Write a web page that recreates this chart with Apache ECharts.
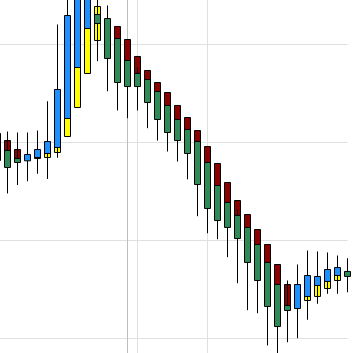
<!DOCTYPE html>
<html>
<head>
<meta charset="utf-8">
<script src="https://cdn.jsdelivr.net/npm/echarts@6/dist/echarts.min.js"></script>
<style>
html,body{margin:0;padding:0;background:#ffffff;}
#chart{width:352px;height:353px;}
</style>
</head>
<body>
<div id="chart"></div>
<script>
// Category labels (one per candle position)
const categories = ['1','2','3','4','5','6','7','8','9','10','11','12','13','14','15','16','17','18',
  '19','20','21','22','23','24','25','26','27','28','29','30','31','32','33','34','35','36'];

// Underlying candles [open, close, low, high] (up = yellow, down = dark red)
const baseCandles = [
  [29.90, 29.20, 29.20, 29.90],
  [30.20, 28.15, 28.15, 30.20],
  [29.29, 28.15, 28.15, 29.29],
  [28.30, 28.60, 28.30, 28.60],
  [28.37, 28.90, 28.37, 28.90],
  [28.47, 29.50, 28.47, 29.50],
  [28.98, 32.00, 28.98, 32.00],
  [30.61, 36.00, 30.61, 36.00],
  [33.57, 40.00, 33.57, 40.00],
  [37.04, 44.00, 37.04, 44.00],
  [40.41, 43.88, 40.41, 43.88],
  [41.00, 40.00, 40.00, 41.00],
  [41.84, 38.00, 38.00, 41.84],
  [40.51, 37.00, 37.00, 40.51],
  [38.78, 36.50, 36.50, 38.78],
  [37.35, 35.00, 35.00, 37.35],
  [36.12, 34.00, 34.00, 36.12],
  [35.10, 32.50, 32.50, 35.10],
  [33.78, 31.00, 31.00, 33.78],
  [32.55, 30.00, 30.00, 32.55],
  [31.22, 28.00, 28.00, 31.22],
  [29.59, 25.00, 25.00, 29.59],
  [27.86, 24.00, 24.00, 27.86],
  [25.92, 22.50, 22.50, 25.92],
  [24.08, 21.50, 21.50, 24.08],
  [22.65, 19.50, 19.50, 22.65],
  [21.12, 18.00, 18.00, 21.12],
  [19.59, 16.00, 16.00, 19.59],
  [17.55, 14.00, 14.00, 17.55],
  [15.51, 13.10, 13.10, 15.51],
  [14.00, 14.50, 14.00, 14.50],
  [13.88, 15.00, 13.88, 15.00],
  [14.29, 15.90, 14.29, 15.90],
  [15.10, 16.50, 15.10, 16.50],
  [15.92, 16.90, 15.92, 16.90],
  [16.70, 16.50, 16.50, 16.70]
];

// Overlaid candles [open, close, low, high] (up = blue, down = green)
const topCandles = [
  [30.92, 28.16, 27.00, 32.00],
  [29.18, 27.45, 24.80, 31.12],
  [28.37, 27.96, 25.66, 31.02],
  [28.13, 28.78, 26.05, 31.02],
  [28.47, 29.29, 26.81, 31.22],
  [28.88, 30.10, 26.28, 34.21],
  [29.49, 35.41, 28.44, 42.04],
  [32.45, 42.96, 32.45, 45.50],
  [37.65, 47.00, 37.65, 48.50],
  [41.63, 47.80, 41.63, 49.00],
  [43.06, 42.14, 38.30, 45.00],
  [42.65, 38.57, 35.23, 43.98],
  [40.61, 36.12, 33.27, 40.61],
  [38.37, 35.71, 32.48, 38.37],
  [37.04, 35.71, 33.27, 37.68],
  [36.43, 34.08, 31.46, 36.43],
  [35.20, 32.35, 30.20, 35.20],
  [33.78, 31.02, 29.08, 33.78],
  [32.35, 30.20, 28.06, 32.35],
  [31.33, 28.88, 26.24, 31.33],
  [30.10, 25.71, 22.48, 30.10],
  [27.96, 23.27, 20.74, 27.96],
  [25.61, 22.04, 20.13, 25.61],
  [23.88, 21.33, 18.30, 23.88],
  [22.55, 20.20, 15.64, 23.13],
  [21.33, 17.76, 12.89, 21.33],
  [19.59, 15.92, 12.58, 19.59],
  [17.76, 13.27, 9.29, 17.76],
  [15.51, 11.22, 7.90, 15.51],
  [13.37, 12.86, 9.62, 15.92],
  [13.06, 15.51, 10.03, 17.55],
  [14.29, 16.43, 11.91, 18.98],
  [15.41, 16.33, 13.54, 18.88],
  [15.82, 17.04, 14.56, 18.78],
  [16.43, 17.24, 14.56, 18.47],
  [16.84, 16.33, 14.72, 18.19]
];

// Value-axis ticks and the category indices that carry vertical grid lines
const yTicks = [0, 10, 20, 30, 40, 50];
const gridCategoryIndices = [13, 14, 21];

const chart = echarts.init(document.getElementById('chart'), null, {renderer: 'canvas'});
chart.setOption({
  animation: false,
  backgroundColor: '#ffffff',
  grid: {left: -2.5, right: 4.5, top: -53.5, bottom: -83.5, containLabel: false, outerBoundsMode: 'none'},
  xAxis: {
    type: 'category',
    data: categories,
    boundaryGap: false,
    axisLine: {show: false},
    axisTick: {show: false},
    axisLabel: {show: false},
    splitLine: {
      show: true,
      interval: function (idx) { return gridCategoryIndices.indexOf(idx) >= 0; },
      lineStyle: {color: ['#bdbdbd', '#e0e0e0', '#e0e0e0'], width: 1}
    }
  },
  yAxis: {
    type: 'value',
    min: yTicks[0],
    max: yTicks[yTicks.length - 1],
    interval: yTicks[1] - yTicks[0],
    axisLine: {show: false},
    axisTick: {show: false},
    axisLabel: {show: false},
    splitLine: {show: true, lineStyle: {color: '#e0e0e0', width: 1}}
  },
  series: [
    {
      type: 'candlestick',
      name: 'base',
      data: baseCandles,
      barWidth: 6,
      clip: false,
      z: 2,
      silent: true,
      itemStyle: {color: '#ffff00', color0: '#8b0000', borderColor: '#000000', borderColor0: '#000000', borderWidth: 1}
    },
    {
      type: 'candlestick',
      name: 'top',
      data: topCandles,
      barWidth: 6,
      clip: false,
      z: 3,
      silent: true,
      itemStyle: {color: '#1e90ff', color0: '#2e8b57', borderColor: '#000000', borderColor0: '#000000', borderWidth: 1}
    }
  ]
});
</script>
</body>
</html>
